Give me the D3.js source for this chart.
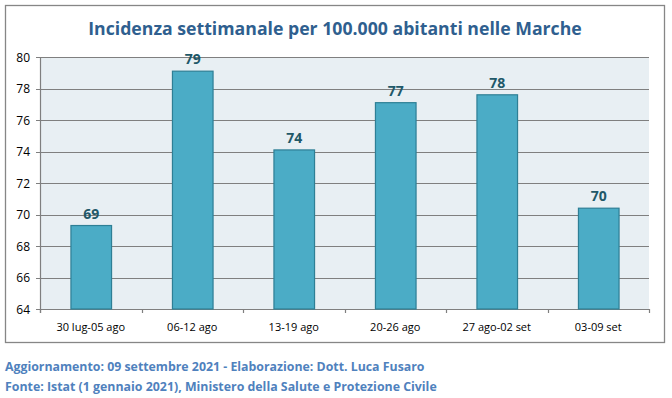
<!DOCTYPE html>
<html><head><meta charset="utf-8">
<script src="https://cdn.jsdelivr.net/npm/d3@7"></script>
<style>body{margin:0;background:#fff}svg{display:block}</style>
</head><body>
<script>
const categories = ["30 lug-05 ago","06-12 ago","13-19 ago","20-26 ago","27 ago-02 set","03-09 set"];
const values = [69.3, 79.1, 74.1, 77.1, 77.6, 70.4];
const labels = ["69","79","74","77","78","70"];
const yTicks = [64,66,68,70,72,74,76,78,80];
const title = "Incidenza settimanale per 100.000 abitanti nelle Marche";
const footer = ["Aggiornamento: 09 settembre 2021 - Elaborazione: Dott. Luca Fusaro",
                "Fonte: Istat (1 gennaio 2021), Ministero della Salute e Protezione Civile"];

const W = 672, H = 398;
const svg = d3.select("body").append("svg").attr("width", W).attr("height", H);
const font = "'Open Sans', 'Noto Sans', sans-serif";

svg.append("rect").attr("x",5.5).attr("y",5.5).attr("width",659).attr("height",337)
  .attr("fill","#fff").attr("stroke","#868686").attr("stroke-width",1.3);

const m = {l:40, r:649, t:57, b:309};
const x = d3.scaleBand().domain(categories).range([m.l, m.r]).paddingInner(0.6).paddingOuter(0.3);
const y = d3.scaleLinear().domain([64,80]).range([m.b, m.t]);

svg.append("rect").attr("x",m.l).attr("y",m.t).attr("width",m.r-m.l).attr("height",m.b-m.t).attr("fill","#e8eff3");

svg.append("g").selectAll("line").data(yTicks).join("line")
  .attr("x1",m.l-4).attr("x2",m.r).attr("y1",d=>Math.round(y(d))+0.5).attr("y2",d=>Math.round(y(d))+0.5)
  .attr("stroke","#7f7f7f").attr("stroke-width",1.2);

svg.append("g").selectAll("text").data(yTicks).join("text")
  .attr("x",30).attr("y",d=>y(d)+4.5).attr("text-anchor","end")
  .attr("font-family",font).attr("font-size",12).attr("fill","#000").text(d=>d);

svg.append("line").attr("x1",m.l+0.5).attr("x2",m.l+0.5).attr("y1",m.t).attr("y2",m.b+4).attr("stroke","#7f7f7f").attr("stroke-width",1.2);

const bounds = d3.range(categories.length+1).map(i=>m.l + i*(m.r-m.l)/categories.length);
svg.append("g").selectAll("line").data(bounds).join("line")
  .attr("x1",d=>Math.round(d)+0.5).attr("x2",d=>Math.round(d)+0.5).attr("y1",m.b).attr("y2",m.b+4)
  .attr("stroke","#7f7f7f").attr("stroke-width",1.2);

svg.append("g").selectAll("rect").data(values).join("rect")
  .attr("x",(d,i)=>x(categories[i])+0.5).attr("y",d=>y(d)).attr("width",x.bandwidth()).attr("height",d=>m.b-y(d))
  .attr("fill","#4bacc6").attr("stroke","#2e7f95").attr("stroke-width",1.2);

svg.append("g").selectAll("text").data(values).join("text")
  .attr("x",(d,i)=>x(categories[i])+x.bandwidth()/2+0.5).attr("y",d=>y(d)-7)
  .attr("text-anchor","middle").attr("font-family",font).attr("font-weight","bold")
  .attr("font-size",14).attr("fill","#215868").text((d,i)=>labels[i]);

svg.append("g").selectAll("text").data(categories).join("text")
  .attr("x",d=>x(d)+x.bandwidth()/2).attr("y",331).attr("text-anchor","middle")
  .attr("font-family",font).attr("font-size",11).attr("fill","#000").text(d=>d);

function fit(sel, width){
  const n = sel.node(); const w = n.getComputedTextLength();
  const fs = parseFloat(sel.attr("font-size"));
  sel.attr("font-size", fs*width/w);
}

const t = svg.append("text").attr("x",335).attr("y",35).attr("text-anchor","middle")
  .attr("font-family",font).attr("font-weight","bold").attr("font-size",19).attr("fill","#2f5f8f").text(title);
fit(t, 494);

const f1 = svg.append("text").attr("x",5).attr("y",371).attr("font-family",font).attr("font-weight","bold")
  .attr("font-size",12).attr("fill","#4f81bd").text(footer[0]);
fit(f1, 420);
const f2 = svg.append("text").attr("x",5).attr("y",391).attr("font-family",font).attr("font-weight","bold")
  .attr("font-size",12).attr("fill","#4f81bd").text(footer[1]);
fit(f2, 432);
</script>
</body></html>
